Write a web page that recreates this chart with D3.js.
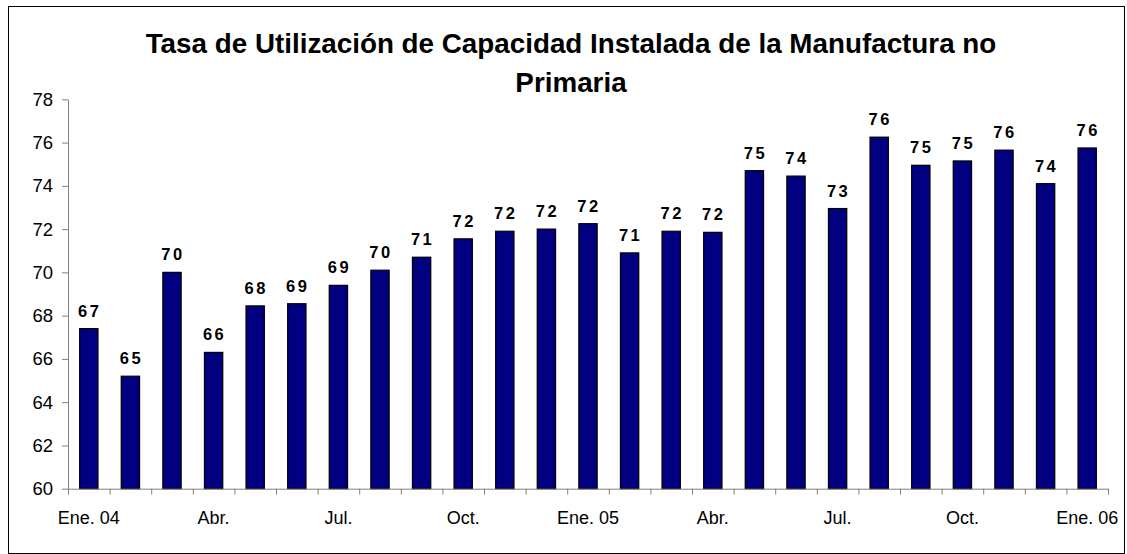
<!DOCTYPE html>
<html>
<head>
<meta charset="utf-8">
<script src="https://cdn.jsdelivr.net/npm/d3@7"></script>
<style>
  body { margin: 0; background: #fff; }
  text { font-family: Arial, "Liberation Sans", sans-serif; }
</style>
</head>
<body>
<div id="chart"></div>
<script>
// meses, Ene. 2004 a Ene. 2006
const months = ["Ene 04","Feb 04","Mar 04","Abr 04","May 04","Jun 04","Jul 04","Ago 04","Sep 04","Oct 04","Nov 04","Dic 04",
  "Ene 05","Feb 05","Mar 05","Abr 05","May 05","Jun 05","Jul 05","Ago 05","Sep 05","Oct 05","Nov 05","Dic 05","Ene 06"];
const values = [67.4, 65.2, 70.0, 66.3, 68.45, 68.55, 69.4, 70.1, 70.7, 71.55, 71.9, 72.0, 72.25,
  70.9, 71.9, 71.85, 74.7, 74.45, 72.95, 76.25, 74.95, 75.15, 75.65, 74.1, 75.75];
const tickLabels = ["Ene. 04","Abr.","Jul.","Oct.","Ene. 05","Abr.","Jul.","Oct.","Ene. 06"];
const yTicks = [60, 62, 64, 66, 68, 70, 72, 74, 76, 78];
const titleLines = ["Tasa de Utilización de Capacidad Instalada de la Manufactura no", "Primaria"];

const dataset = months.map((m, i) => ({ month: m, value: values[i] }));

let dimensions = {
  width: 1127,
  height: 554,
  margin: { top: 99.3, bottom: 65.3, left: 68, right: 19 }
};
dimensions.ctrWidth = dimensions.width - dimensions.margin.left - dimensions.margin.right;
dimensions.ctrHeight = dimensions.height - dimensions.margin.top - dimensions.margin.bottom;

const svg = d3.select('#chart')
  .append('svg')
  .attr('width', dimensions.width)
  .attr('height', dimensions.height);

// marco exterior
svg.append('rect')
  .attr('x', 8.5).attr('y', 6.5)
  .attr('width', 1116).attr('height', 547)
  .attr('fill', 'white')
  .attr('stroke', 'black')
  .attr('stroke-width', 1);

const x = d3.scaleBand()
  .domain(months)
  .range([dimensions.margin.left, dimensions.width - dimensions.margin.right])
  .paddingInner(0.56)
  .paddingOuter(0.28);

// para las marcas entre categorias
const xEdge = d3.scaleLinear()
  .domain([0, months.length])
  .range([dimensions.margin.left, dimensions.width - dimensions.margin.right]);

const y = d3.scaleLinear()
  .domain([60, 78])
  .range([dimensions.height - dimensions.margin.bottom, dimensions.margin.top]);

// titulo
svg.append('g')
  .selectAll('text')
  .data(titleLines)
  .join('text')
    .attr('x', 571)
    .attr('y', (d, i) => 53 + i * 38.5)
    .attr('text-anchor', 'middle')
    .attr('font-weight', 'bold')
    .attr('font-size', '27.8px')
    .text(d => d);

// barras
svg.append('g')
  .selectAll('rect')
  .data(dataset)
  .join('rect')
    .attr('x', d => x(d.month))
    .attr('y', d => y(d.value))
    .attr('width', x.bandwidth())
    .attr('height', d => y(60) - y(d.value))
    .attr('fill', '#000080')
    .attr('stroke', 'black')
    .attr('stroke-width', 1.2);

// etiquetas de valor
svg.append('g')
  .attr('text-anchor', 'middle')
  .selectAll('text')
  .data(dataset)
  .join('text')
    .attr('x', d => x(d.month) + x.bandwidth() / 2 + 1)
    .attr('y', d => y(d.value) - 12)
    .attr('font-weight', 'bold')
    .attr('font-size', '16.5px')
    .attr('letter-spacing', '2.5px')
    .text(d => Math.round(d.value));

// eje Y
const yAxis = svg.append('g')
  .attr('transform', `translate(${dimensions.margin.left}, 0)`)
  .call(d3.axisLeft(y).tickValues(yTicks).tickSize(6).tickPadding(9).tickSizeOuter(0))
  .style('font-size', '18.5px')
  .style('font-family', 'Arial, "Liberation Sans", sans-serif');
yAxis.selectAll('line, path').attr('stroke', '#808080');
yAxis.selectAll('text').attr('fill', 'black');

// eje X
const xAxis = svg.append('g')
  .attr('transform', `translate(0, ${y(60)})`)
  .call(d3.axisBottom(xEdge).tickValues(d3.range(months.length + 1)).tickFormat('').tickSize(6).tickSizeOuter(0));
xAxis.selectAll('line, path').attr('stroke', '#808080');

svg.append('g')
  .attr('text-anchor', 'middle')
  .selectAll('text')
  .data(tickLabels)
  .join('text')
    .attr('x', (d, i) => x(months[i * 3]) + x.bandwidth() / 2)
    .attr('y', y(60) + 35)
    .attr('font-size', '18px')
    .text(d => d);
</script>
</body>
</html>
